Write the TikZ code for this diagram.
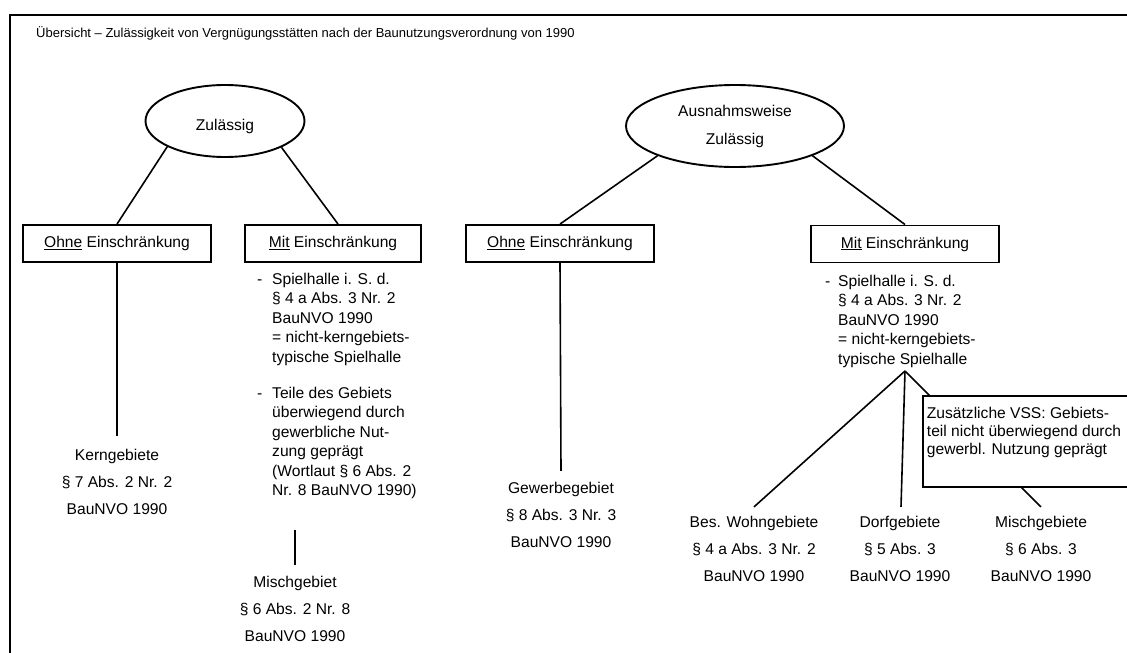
\documentclass[tikz,border=0pt]{standalone}
\usepackage{fontspec}
\setmainfont{Liberation Sans}
\usetikzlibrary{shapes.geometric}
\begin{document}
\begin{tikzpicture}[x=1pt,y=-1pt,
  txt/.style={font=\fontsize{15.6}{19.5}\selectfont, inner sep=0pt},
  boxnode/.style={draw, line width=1.9pt, minimum height=37pt, inner sep=0pt, font=\fontsize{15.6}{19.5}\selectfont},
  ell/.style={draw, ellipse, line width=1.9pt, inner sep=0pt, font=\fontsize{15.6}{28}\selectfont, align=center},
  conn/.style={line width=1.6pt},
  lbl/.style={inner sep=0pt, font=\fontsize{15.6}{27}\selectfont, anchor=base},
  vssbox/.style={draw, line width=1.9pt, fill=white, anchor=north west, inner xsep=4pt, inner ysep=11pt, font=\fontsize{15.6}{18.2}\selectfont}
]
\useasboundingbox (0,0) rectangle (1127,653);
\clip (0,0) rectangle (1127,653);
\fill[white] (0,0) rectangle (1127,653);
\draw[line width=2.6pt] (10,700) -- (10,15) -- (1200,15);

\node[font=\fontsize{13}{16}\selectfont, inner sep=0pt, anchor=base west] (title) at (36,37)
  {Übersicht – Zulässigkeit von Vergnügungsstätten nach der Baunutzungsverordnung von 1990};

% ellipses
\node[ell, minimum width=159pt, minimum height=72pt] (z1) at (225,121)
  {\raisebox{-5pt}[11pt][3pt]{Zulässig}};
\node[ell, minimum width=218pt, minimum height=82pt] (z2) at (735,126)
  {Ausnahmsweise\\Zulässig};

% boxes
\node[boxnode, minimum width=188pt] (b1) at (117,243.5) {\underline{Ohne} Einschränkung};
\node[boxnode, minimum width=176pt] (b2) at (333,243.5) {\underline{Mit} Einschränkung};
\node[boxnode, minimum width=188pt] (b3) at (560,243.5) {\underline{Ohne} Einschränkung};
\node[boxnode, minimum width=188pt] (b4) at (905,244) {\underline{Mit} Einschränkung};

% lists
\node[txt, anchor=base west] (l1) at (257,284) {\begin{tabular}[t]{@{}l@{}}
\makebox[15pt][l]{-}Spielhalle i. S. d.\\
\hspace*{15pt}§ 4 a Abs. 3 Nr. 2\\
\hspace*{15pt}BauNVO 1990\\
\hspace*{15pt}= nicht-kerngebiets-\\
\hspace*{15pt}typische Spielhalle\\[16.5pt]
\makebox[15pt][l]{-}Teile des Gebiets\\
\hspace*{15pt}überwiegend durch\\
\hspace*{15pt}gewerbliche Nut-\\
\hspace*{15pt}zung geprägt\\
\hspace*{15pt}(Wortlaut § 6 Abs. 2\\
\hspace*{15pt}Nr. 8 BauNVO 1990)
\end{tabular}};

\node[txt, anchor=base west] (l2) at (825,286) {\begin{tabular}[t]{@{}l@{}}
\makebox[13pt][l]{-}Spielhalle i. S. d.\\
\hspace*{13pt}§ 4 a Abs. 3 Nr. 2\\
\hspace*{13pt}BauNVO 1990\\
\hspace*{13pt}= nicht-kerngebiets-\\
\hspace*{13pt}typische Spielhalle
\end{tabular}};

% labels
\node[lbl] (kg) at (117,460) {\begin{tabular}[t]{@{}c@{}}Kerngebiete\\§ 7 Abs. 2 Nr. 2\\BauNVO 1990\end{tabular}};
\node[lbl] (mg1) at (295,587) {\begin{tabular}[t]{@{}c@{}}Mischgebiet\\§ 6 Abs. 2 Nr. 8\\BauNVO 1990\end{tabular}};
\node[lbl] (gw) at (561,493) {\begin{tabular}[t]{@{}c@{}}Gewerbegebiet\\§ 8 Abs. 3 Nr. 3\\BauNVO 1990\end{tabular}};
\node[lbl] (bw) at (754,527) {\begin{tabular}[t]{@{}c@{}}Bes. Wohngebiete\\§ 4 a Abs. 3 Nr. 2\\BauNVO 1990\end{tabular}};
\node[lbl] (dg) at (900,527) {\begin{tabular}[t]{@{}c@{}}Dorfgebiete\\§ 5 Abs. 3\\BauNVO 1990\end{tabular}};
\node[lbl] (mg2) at (1041,527) {\begin{tabular}[t]{@{}c@{}}Mischgebiete\\§ 6 Abs. 3\\BauNVO 1990\end{tabular}};

% connectors
\draw[conn] (z1.204.9) -- (b1.north);
\draw[conn] (z1.335.9) -- ([xshift=5pt]b2.north);
\draw[conn] (z2.201) -- (b3.north);
\draw[conn] (z2.339.6) -- (b4.north);
\draw[conn] (b1.south) -- ([yshift=5pt]kg.north);
\draw[conn] (b3.south) -- ([yshift=3pt]gw.north);
\draw[conn] ([yshift=38pt]mg1.north) -- ([yshift=3pt]mg1.north);
\coordinate (fan) at (905,371);
\draw[conn] (fan) -- ([yshift=1pt]bw.north);
\draw[conn] (fan) -- ([xshift=1pt,yshift=1pt]dg.north);
\draw[conn] (fan) -- ([yshift=1pt]mg2.north);

% additional condition box (drawn over the line to Mischgebiete)
\node[vssbox] (vss) at (922,395) {\parbox[t][69pt][t]{240pt}{\raggedright
Zusätzliche VSS: Gebiets-\\teil nicht überwiegend durch\\gewerbl. Nutzung geprägt}};
\end{tikzpicture}
\end{document}
